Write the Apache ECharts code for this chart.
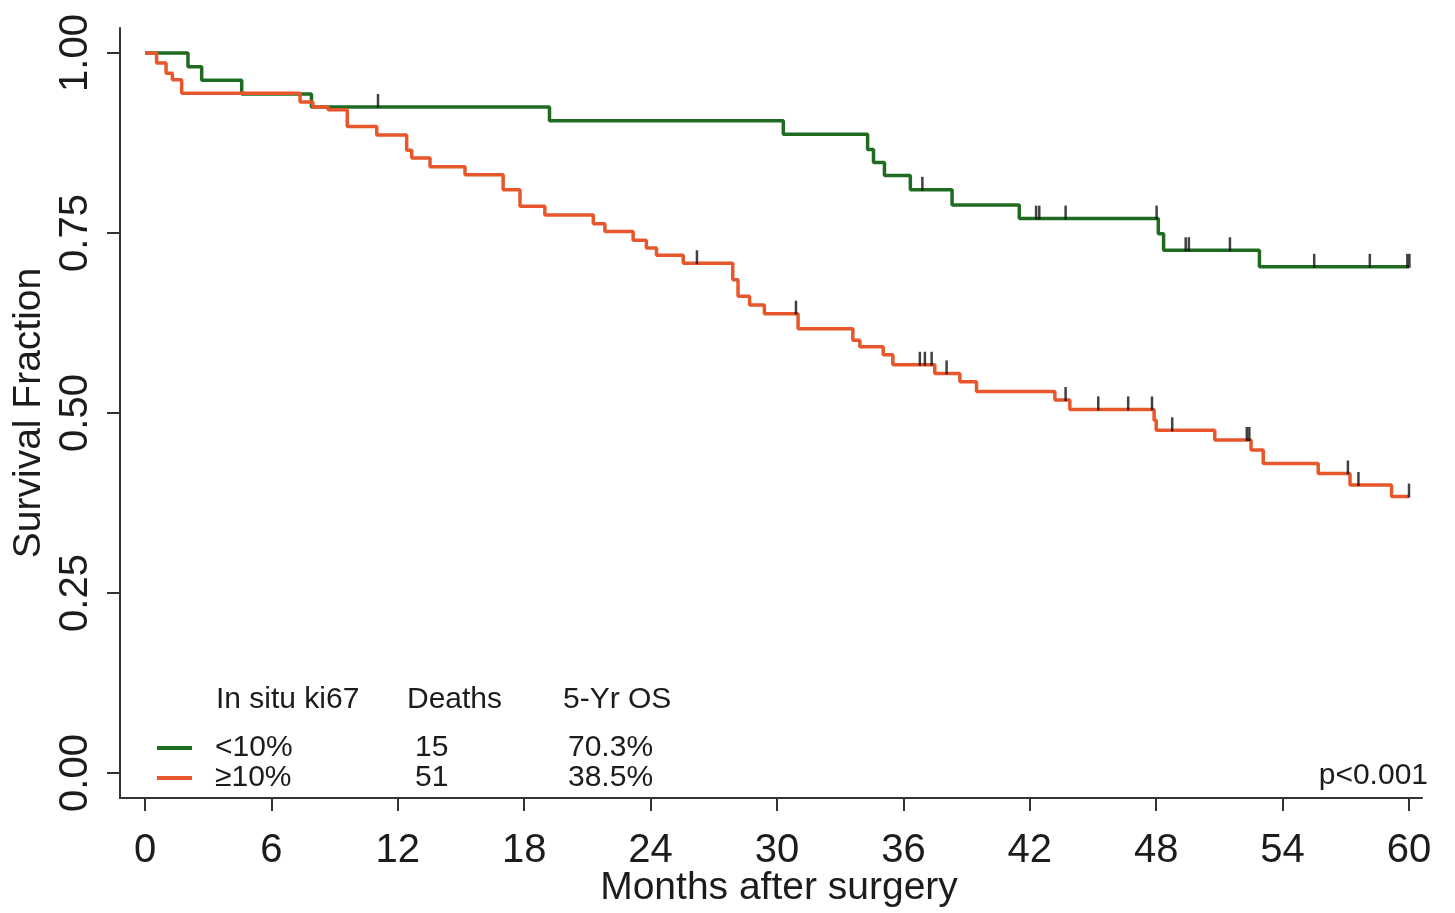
<!DOCTYPE html>
<html><head><meta charset="utf-8">
<script src="https://cdn.jsdelivr.net/npm/echarts@6/dist/echarts.min.js"></script>
<style>html,body{margin:0;padding:0;background:#fff}#c{width:1455px;height:913px}</style>
</head><body><div id="c"></div>
<script>
// ---- data ----
const groups = ['<10%', '≥10%'];
const deaths = ['15', '51'];
const fiveYrOS = ['70.3%', '38.5%'];
const tableHeader = ['In situ ki67', 'Deaths', '5-Yr OS'];
const pValue = 'p<0.001';
const xTicks = [0, 6, 12, 18, 24, 30, 36, 42, 48, 54, 60];
const yTicks = [0, 0.25, 0.5, 0.75, 1];
const xTitle = 'Months after surgery';
const yTitle = 'Survival Fraction';

// KM step curve, ki67 < 10% (time, survival after event)
const lowTimes = [0, 2.04, 2.69, 4.59, 7.9, 19.2, 30.3, 34.3, 34.58, 35.1, 36.33, 38.31, 41.5, 48.1, 48.35, 52.9, 60];
const lowSurv  = [1, 0.981, 0.962, 0.943, 0.925, 0.906, 0.887, 0.866, 0.848, 0.830, 0.810, 0.789, 0.770, 0.749, 0.726, 0.703, 0.703];
const lowCensor = [11.06, 36.9, 42.3, 42.45, 43.7, 48.02, 49.4, 49.55, 51.5, 55.5, 58.14, 59.92, 60.02];

// KM step curve, ki67 >= 10%
const highTimes = [0, 0.55, 1.0, 1.3, 1.74, 7.36, 7.97, 8.69, 9.6, 11.0, 12.42, 12.66, 13.53, 15.19, 17.0, 17.8, 18.98, 21.28, 21.83, 23.17, 23.8, 24.28, 25.55, 27.9, 28.15, 28.7, 29.4, 31.0, 33.6, 33.93, 35.04, 35.5, 37.49, 38.68, 39.47, 43.19, 43.9, 47.9, 48.0, 50.78, 52.5, 53.08, 55.69, 57.2, 59.17, 60];
const highSurv  = [1, 0.986, 0.972, 0.963, 0.944, 0.932, 0.925, 0.921, 0.898, 0.886, 0.865, 0.854, 0.842, 0.831, 0.810, 0.787, 0.775, 0.763, 0.752, 0.740, 0.729, 0.719, 0.708, 0.685, 0.662, 0.650, 0.638, 0.617, 0.601, 0.592, 0.581, 0.567, 0.555, 0.5435, 0.530, 0.518, 0.505, 0.490, 0.476, 0.4625, 0.4486, 0.430, 0.416, 0.400, 0.384, 0.384];
const highCensor = [26.2, 30.9, 36.78, 37.02, 37.34, 38.05, 43.7, 45.25, 46.67, 47.8, 48.76, 52.3, 52.42, 57.1, 57.6, 60.0];

// ---- build ----
function survAt(times, surv, t) {
  let v = surv[0];
  for (let i = 0; i < times.length; i++) { if (times[i] <= t) v = surv[i]; }
  return v;
}
const zip = (a, b) => a.map((t, i) => [t, b[i]]);
const GREEN = '#1f6b22', ORANGE = '#e8562b', INK = '#1c1c1c';
const FONT = '"Liberation Sans", Arial, sans-serif';

const chart = echarts.init(document.getElementById('c'), null, {renderer: 'canvas'});
chart.setOption({
  backgroundColor: '#fff',
  animation: false,
  grid: {left: 120, right: 33, top: 28, bottom: 115, containLabel: false, outerBoundsMode: 'none'},
  xAxis: {
    type: 'value', min: -1.187, max: 60.617,
    name: xTitle, nameLocation: 'middle', nameGap: 71, nameMoveOverlap: false,
    nameTextStyle: {fontFamily: FONT, fontSize: 39, color: INK, padding: [0, 0, 0, 16]},
    axisLine: {onZero: false, lineStyle: {color: '#333', width: 2}},
    axisTick: {customValues: xTicks, length: 13, lineStyle: {color: '#333', width: 2}},
    axisLabel: {customValues: xTicks, margin: 33, fontFamily: FONT, fontSize: 40, color: INK},
    splitLine: {show: false}
  },
  yAxis: {
    type: 'value', min: -0.0347, max: 1.0347,
    name: yTitle, nameLocation: 'middle', nameGap: 71, nameMoveOverlap: false,
    nameTextStyle: {fontFamily: FONT, fontSize: 39, color: INK},
    axisLine: {show: true, onZero: false, lineStyle: {color: '#333', width: 2}},
    axisTick: {show: true, customValues: yTicks, length: 13, lineStyle: {color: '#333', width: 2}},
    axisLabel: {customValues: yTicks, rotate: 90, margin: 24, fontFamily: FONT, fontSize: 40, color: INK,
      formatter: v => v.toFixed(2)},
    splitLine: {show: false}
  },
  legend: {
    data: groups, orient: 'vertical', left: 152, top: 728, itemGap: 0,
    itemWidth: 35, itemHeight: 4, icon: 'rect', selectedMode: false,
    formatter: name => {
      const i = groups.indexOf(name);
      return '{a|' + name + '}{b|' + deaths[i] + '}{c|' + fiveYrOS[i] + '}';
    },
    textStyle: {
      fontFamily: FONT, fontSize: 30, color: INK, lineHeight: 30,
      rich: {
        a: {fontFamily: FONT, fontSize: 30, color: INK, width: 200, padding: [0, 0, 0, 18]},
        b: {fontFamily: FONT, fontSize: 30, color: INK, width: 153},
        c: {fontFamily: FONT, fontSize: 30, color: INK}
      }
    }
  },
  graphic: [
    {type: 'text', x: 216, y: 700, style: {text: tableHeader[0], font: '30px ' + FONT, fill: INK, verticalAlign: 'middle'}},
    {type: 'text', x: 407, y: 700, style: {text: tableHeader[1], font: '30px ' + FONT, fill: INK, verticalAlign: 'middle'}},
    {type: 'text', x: 563, y: 700, style: {text: tableHeader[2], font: '30px ' + FONT, fill: INK, verticalAlign: 'middle'}},
    {type: 'text', x: 1428, y: 776, style: {text: pValue, font: '30px ' + FONT, fill: INK, align: 'right', verticalAlign: 'middle'}}
  ],
  series: [
    {name: groups[0], type: 'line', step: 'end', symbol: 'none', data: zip(lowTimes, lowSurv),
     color: GREEN, lineStyle: {color: GREEN, width: 3.5}, z: 3},
    {name: groups[1], type: 'line', step: 'end', symbol: 'none', data: zip(highTimes, highSurv),
     color: ORANGE, lineStyle: {color: ORANGE, width: 3.5}, z: 4},
    {name: 'censor-low', type: 'scatter', symbol: 'rect', symbolSize: [2.5, 14], symbolOffset: [0, -6],
     itemStyle: {color: '#111'}, data: lowCensor.map(t => [t, survAt(lowTimes, lowSurv, t)]), z: 5},
    {name: 'censor-high', type: 'scatter', symbol: 'rect', symbolSize: [2.5, 14], symbolOffset: [0, -6],
     itemStyle: {color: '#111'}, data: highCensor.map(t => [t, survAt(highTimes, highSurv, t)]), z: 5}
  ]
});
</script></body></html>
